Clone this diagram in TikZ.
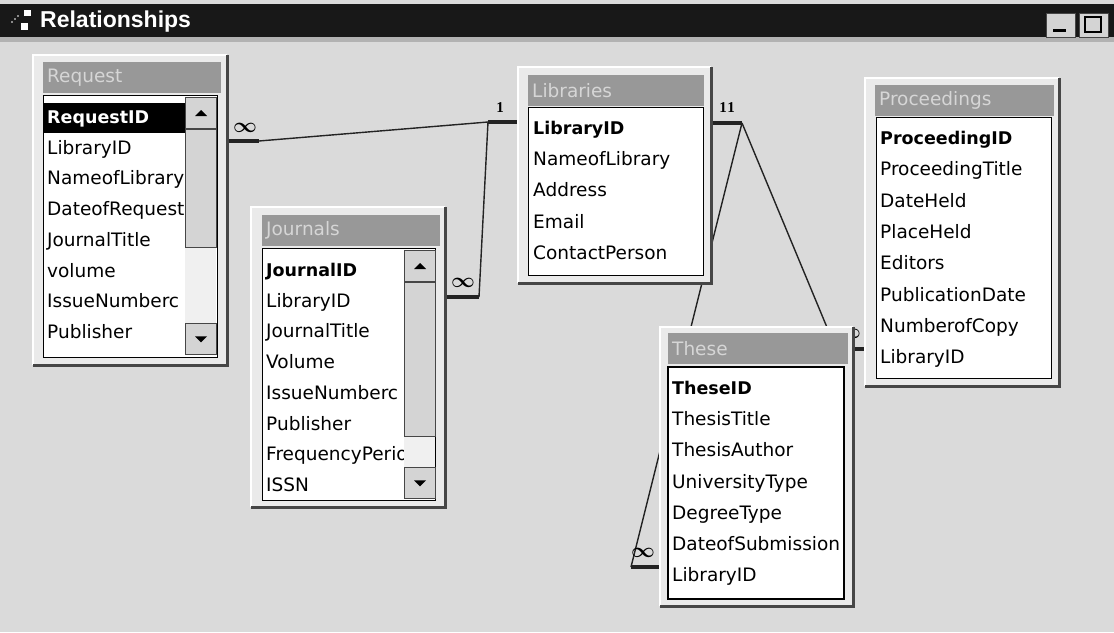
\documentclass[tikz,border=0pt]{standalone}
\usepackage{fontspec}
\setmainfont{DejaVu Sans}
\newfontfamily\capfont{Liberation Sans}
\newfontfamily\cardfont{Liberation Serif}
\usetikzlibrary{positioning,backgrounds}

\definecolor{deskclr}{RGB}{218,218,218}
\definecolor{barclr}{RGB}{24,24,24}
\definecolor{frameclr}{RGB}{234,234,234}
\definecolor{stripclr}{RGB}{152,152,152}
\definecolor{striptxt}{RGB}{214,214,214}
\definecolor{edgeclr}{RGB}{70,70,70}
\definecolor{btnclr}{RGB}{212,212,212}
\definecolor{trackclr}{RGB}{240,240,240}
\definecolor{linkclr}{RGB}{35,35,35}

\begin{document}
\begin{tikzpicture}[x=1pt,y=-1pt,
  tbl/.style={anchor=north west,fill=frameclr,inner sep=0pt},
  liteedge/.style={draw=white,line width=2pt},
  shadeedge/.style={draw=edgeclr,line width=2.5pt},
  ttl/.style={anchor=north west,fill=stripclr,text=striptxt,inner xsep=4pt,inner ysep=0pt,minimum height=31pt,align=left,font=\fontsize{18.5}{20}\selectfont},
  lst/.style={anchor=north west,fill=white,draw=black,line width=1.2pt,inner sep=0pt},
  fld/.style={anchor=base west,inner sep=0pt,font=\fontsize{18.5}{20}\selectfont},
  pkfld/.style={fld,font=\fontsize{17.5}{20}\selectfont\bfseries},
  track/.style={anchor=north west,fill=trackclr,inner sep=0pt,minimum width=31pt},
  btn/.style={anchor=north west,fill=btnclr,draw=edgeclr,line width=1pt,inner sep=0pt,minimum width=31pt},
  winbtn/.style={anchor=north west,fill=btnclr,draw=edgeclr,line width=1pt,inner sep=0pt,minimum width=29pt,minimum height=24pt},
  conn/.style={draw=linkclr,line width=1.4pt},
  stub/.style={draw=linkclr,line width=4pt},
  many/.style={inner sep=0pt,font=\fontsize{20}{20}\selectfont\boldmath},
  onelbl/.style={inner sep=0pt,font=\fontsize{15}{15}\selectfont\cardfont\bfseries}]
\useasboundingbox (0,0) rectangle (1114,632);

% window caption
\fill[barclr] (0,4) rectangle (1114,37);
\fill[gray!60] (0,37) rectangle (1114,42);
\fill[white] (24,10) rectangle (31,16);
\fill[white] (21,23) rectangle (28,30);
\foreach \d in {0,1,2} \fill[white] ({12+\d*3},{22-\d*3}) circle (0.9);
\node[anchor=base west,inner sep=0pt,text=white,font=\fontsize{23}{23}\selectfont\capfont\bfseries] (caption) at (40,27) {Relationships};
\node[winbtn] (minbtn) at (1046,13) {};
\fill[black] (1053,29) rectangle (1066,32);
\node[winbtn] (maxbtn) at (1079,13) {};
\draw[black,line width=2pt] (1085,17) rectangle (1101,32);

% Request
\node[tbl,minimum width=194pt,minimum height=310pt] (request) at (33,55) {};
\draw[liteedge] (request.south west) |- (request.north east);
\draw[shadeedge] (request.north east) |- (request.south west);
\node[ttl,text width=170pt] (request-title) at (43,62) {Request};
\node[lst,minimum width=174pt,minimum height=262pt] (request-list) at (43,95) {};
\fill[black] ([shift={(1,8)}]request-list.north west) rectangle ++(141,30);
\node[pkfld,text=white] (request-f0) at ([shift={(4,28.5)}]request-list.north west) {RequestID};
\foreach \f [count=\i] in {LibraryID,NameofLibrary,DateofRequest,JournalTitle,volume,IssueNumberc,Publisher}
  \node[fld] (request-f\i) at ([shift={(4,{28.5+\i*30.7})}]request-list.north west) {\f};
\node[track,minimum height=258pt] (request-sb) at (185,97) {};
\node[btn,minimum height=31pt] (request-up) at (request-sb.north west) {};
\node[btn,minimum height=118pt] (request-thumb) at (request-up.south west) {};
\node[btn,minimum height=31pt,anchor=south west] (request-down) at (request-sb.south west) {};
\fill ([shift={(-6,3)}]request-up.center) -- ++(12,0) -- ++(-6,-6) -- cycle;
\fill ([shift={(-6,-3)}]request-down.center) -- ++(12,0) -- ++(-6,6) -- cycle;

% Journals
\node[tbl,minimum width=194pt,minimum height=300pt] (journals) at (251,207) {};
\draw[liteedge] (journals.south west) |- (journals.north east);
\draw[shadeedge] (journals.north east) |- (journals.south west);
\node[ttl,text width=170pt] (journals-title) at (262,215) {Journals};
\node[lst,minimum width=173pt,minimum height=252pt] (journals-list) at (262,248) {};
\node[pkfld] (journals-f0) at ([shift={(4,28.5)}]journals-list.north west) {JournalID};
\foreach \f [count=\i] in {LibraryID,JournalTitle,Volume,IssueNumberc,Publisher,FrequencyPeriod,ISSN}
  \node[fld] (journals-f\i) at ([shift={(4,{28.5+\i*30.7})}]journals-list.north west) {\f};
\node[track,minimum height=249pt] (journals-sb) at (404,250) {};
\node[btn,minimum height=31pt] (journals-up) at (journals-sb.north west) {};
\node[btn,minimum height=154pt] (journals-thumb) at (journals-up.south west) {};
\node[btn,minimum height=31pt,anchor=south west] (journals-down) at (journals-sb.south west) {};
\fill ([shift={(-6,3)}]journals-up.center) -- ++(12,0) -- ++(-6,-6) -- cycle;
\fill ([shift={(-6,-3)}]journals-down.center) -- ++(12,0) -- ++(-6,6) -- cycle;

% Libraries
\node[tbl,minimum width=193pt,minimum height=216pt] (libraries) at (518,67) {};
\draw[liteedge] (libraries.south west) |- (libraries.north east);
\draw[shadeedge] (libraries.north east) |- (libraries.south west);
\node[ttl,text width=168pt] (libraries-title) at (528,75) {Libraries};
\node[lst,minimum width=175pt,minimum height=168pt] (libraries-list) at (528,107) {};
\node[pkfld] (libraries-f0) at ([shift={(5,27.5)}]libraries-list.north west) {LibraryID};
\foreach \f [count=\i] in {NameofLibrary,Address,Email,ContactPerson}
  \node[fld] (libraries-f\i) at ([shift={(5,{27.5+\i*31.2})}]libraries-list.north west) {\f};

% Proceedings
\node[tbl,minimum width=194pt,minimum height=308pt] (proceedings) at (865,78) {};
\draw[liteedge] (proceedings.south west) |- (proceedings.north east);
\draw[shadeedge] (proceedings.north east) |- (proceedings.south west);
\node[ttl,text width=171pt] (proceedings-title) at (875,85) {Proceedings};
\node[lst,minimum width=175pt,minimum height=261pt] (proceedings-list) at (876,117) {};
\node[pkfld] (proceedings-f0) at ([shift={(4,27.5)}]proceedings-list.north west) {ProceedingID};
\foreach \f [count=\i] in {ProceedingTitle,DateHeld,PlaceHeld,Editors,PublicationDate,NumberofCopy,LibraryID}
  \node[fld] (proceedings-f\i) at ([shift={(4,{27.5+\i*31.3})}]proceedings-list.north west) {\f};

% These
\node[tbl,minimum width=193pt,minimum height=279pt] (these) at (660,327) {};
\draw[liteedge] (these.south west) |- (these.north east);
\draw[shadeedge] (these.north east) |- (these.south west);
\node[ttl,text width=172pt] (these-title) at (668,333) {These};
\node[lst,minimum width=175pt,minimum height=231pt] (these-list) at (668,367) {};
\begin{scope}
\clip (these-list.north west) rectangle (these-list.south east);
\node[pkfld] (these-f0) at ([shift={(4,27.5)}]these-list.north west) {TheseID};
\foreach \f [count=\i] in {ThesisTitle,ThesisAuthor,UniversityType,DegreeType,DateofSubmission,LibraryID}
  \node[fld] (these-f\i) at ([shift={(4,{27.5+\i*31.2})}]these-list.north west) {\f};
\end{scope}
\draw[black,line width=1.2pt] (these-list.north west) rectangle (these-list.south east);

% relationship lines, under the tables
\begin{scope}[on background layer]
\fill[deskclr] (0,0) rectangle (1114,632);
\coordinate (libL) at (488,122);
\coordinate (libR) at (742,123);
\coordinate (reqJ) at (259,141);
\coordinate (jnJ) at (479,297);
\coordinate (thJ) at (631,567);
\coordinate (prJ) at (836,349);
\draw[stub] (request.east |- reqJ) -- (reqJ);
\draw[conn] (reqJ) -- (libL);
\draw[stub] (libL) -- (libraries.west |- libL);
\draw[stub] (journals.east |- jnJ) -- (jnJ);
\draw[conn] (jnJ) -- (libL);
\draw[stub] (libraries.east |- libR) -- (libR);
\draw[conn] (libR) -- (thJ);
\draw[stub] (thJ) -- (these.west |- thJ);
\draw[conn] (libR) -- (prJ);
\draw[stub] (prJ) -- (proceedings.west |- prJ);
\node[many] (req-many) at (245,128) {$\infty$};
\node[onelbl] (lib-one-a) at (500,108) {1};
\node[many] (jn-many) at (463,283) {$\infty$};
\node[onelbl] (lib-one-b) at (723,108) {1};
\node[onelbl] (lib-one-c) at (731,108) {1};
\node[many] (th-many) at (643,553) {$\infty$};
\node[many] (pr-many) at (849,334) {$\infty$};
\end{scope}
\end{tikzpicture}
\end{document}
